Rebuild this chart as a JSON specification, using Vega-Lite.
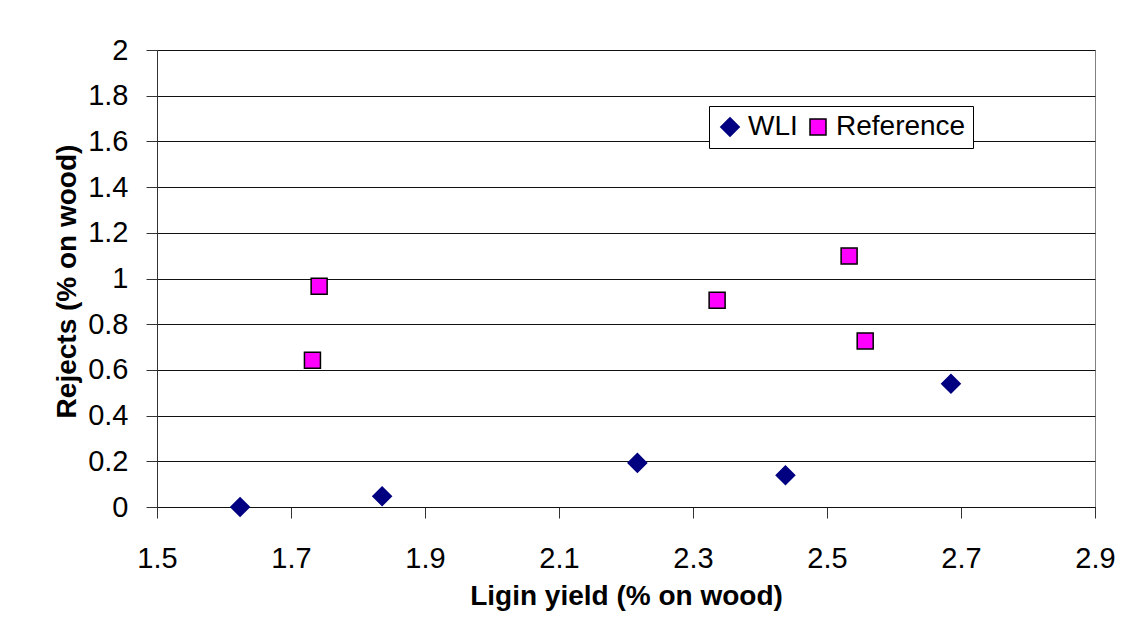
{
  "$schema": "https://vega.github.io/schema/vega-lite/v6.json",
  "width": 938,
  "height": 457,
  "autosize": {"type": "none"},
  "padding": {"left": 157, "top": 50, "right": 50, "bottom": 112},
  "background": "white",
  "config": {
    "font": "Liberation Sans",
    "view": {"stroke": "#808080", "strokeWidth": 1}
  },
  "data": {
    "values": [
      {"series": "WLI", "lignin": 1.624, "rejects": 0.0},
      {"series": "WLI", "lignin": 1.836, "rejects": 0.047},
      {"series": "WLI", "lignin": 2.217, "rejects": 0.193},
      {"series": "WLI", "lignin": 2.438, "rejects": 0.139},
      {"series": "WLI", "lignin": 2.685, "rejects": 0.539},
      {"series": "Reference", "lignin": 1.742, "rejects": 0.966},
      {"series": "Reference", "lignin": 1.732, "rejects": 0.642},
      {"series": "Reference", "lignin": 2.336, "rejects": 0.905},
      {"series": "Reference", "lignin": 2.533, "rejects": 1.098},
      {"series": "Reference", "lignin": 2.557, "rejects": 0.727}
    ]
  },
  "mark": {"type": "point", "filled": true, "opacity": 1, "strokeWidth": 1.5},
  "encoding": {
    "x": {
      "field": "lignin",
      "type": "quantitative",
      "scale": {"domain": [1.5, 2.9], "nice": false, "zero": false},
      "axis": {
        "title": "Ligin yield (% on wood)",
        "values": [1.5, 1.7, 1.9, 2.1, 2.3, 2.5, 2.7, 2.9],
        "format": ".1f",
        "grid": false,
        "labelFontSize": 29,
        "labelColor": "black",
        "labelPadding": 26,
        "labelFlush": false,
        "tickSize": 11,
        "tickColor": "#333",
        "domainColor": "#111",
        "titleFontSize": 28,
        "titleFontWeight": "bold",
        "titleColor": "black",
        "titleBaseline": "alphabetic",
        "titleY": 97
      }
    },
    "y": {
      "field": "rejects",
      "type": "quantitative",
      "scale": {"domain": [0, 2], "nice": false},
      "axis": {
        "title": "Rejects (% on wood)",
        "values": [0, 0.2, 0.4, 0.6, 0.8, 1, 1.2, 1.4, 1.6, 1.8, 2],
        "format": "~g",
        "grid": true,
        "gridColor": "#111",
        "gridWidth": 1,
        "gridOpacity": 1,
        "labelFontSize": 29,
        "labelColor": "black",
        "labelPadding": 18,
        "labelFlush": false,
        "tickSize": 11,
        "tickColor": "#333",
        "domainColor": "#333",
        "titleFontSize": 28,
        "titleFontWeight": "bold",
        "titleColor": "black",
        "titleBaseline": "alphabetic",
        "titleX": -82,
        "titleY": 231
      }
    },
    "shape": {
      "field": "series",
      "type": "nominal",
      "scale": {"domain": ["WLI", "Reference"], "range": ["diamond", "square"]},
      "legend": {
        "title": null,
        "orient": "none",
        "legendX": 552,
        "legendY": 56,
        "direction": "horizontal",
        "labelFontSize": 28,
        "labelColor": "black",
        "labelOffset": 4,
        "columnPadding": 6,
        "padding": 7,
        "strokeColor": "black",
        "fillColor": "white",
        "symbolStrokeWidth": 1.5
      }
    },
    "fill": {
      "field": "series",
      "type": "nominal",
      "scale": {"domain": ["WLI", "Reference"], "range": ["#000080", "#FF00FF"]}
    },
    "stroke": {
      "field": "series",
      "type": "nominal",
      "scale": {"domain": ["WLI", "Reference"], "range": ["#000080", "#000000"]}
    },
    "size": {
      "field": "series",
      "type": "nominal",
      "scale": {"domain": ["WLI", "Reference"], "range": [340, 256]}
    }
  }
}
